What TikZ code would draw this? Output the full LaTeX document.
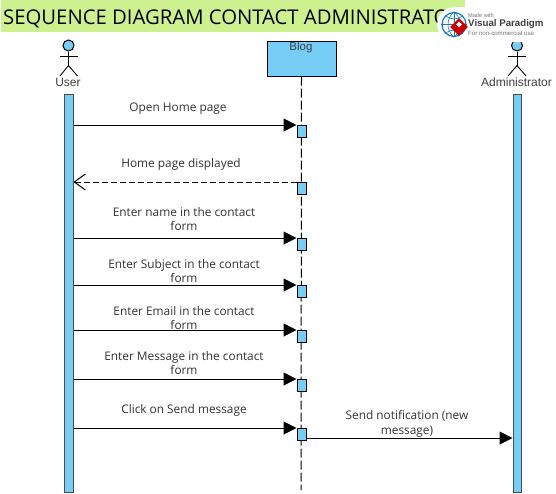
\documentclass[tikz,border=0pt]{standalone}
\usepackage{fontspec}
\setmainfont{Open Sans}
\newfontfamily\arialf{Liberation Sans}
\usetikzlibrary{arrows.meta,calc,shapes.geometric}
\definecolor{barblue}{HTML}{76CEF6}
\definecolor{titlegreen}{HTML}{CDF18F}
\definecolor{labelgray}{HTML}{333333}
\tikzset{
  x=1pt,y=-1pt,
  actbar/.style={draw=black,line width=1pt,fill=barblue,inner sep=0pt,minimum width=9pt,minimum height=12pt,anchor=north west},
  longbar/.style={draw=black!70,line width=1pt,fill=barblue,inner sep=0pt,minimum width=8.5pt,minimum height=398pt,anchor=north west},
  msg/.style={draw=black,line width=1pt,-{Triangle[length=13pt,width=13pt]}},
  ret/.style={draw=black,line width=1pt,dashed,dash pattern=on 6pt off 3pt,-{Straight Barb[length=11pt,width=16pt,line width=1pt]}},
  msglabel/.style={font=\fontsize{11.85}{14.5}\selectfont,text=labelgray,align=center,inner sep=0pt},
  actorlabel/.style={font=\arialf\fontsize{12}{14}\selectfont,text=black!75,inner sep=0pt},
  stick/.style={draw=black,line width=0.9pt},
  head/.style={circle,draw=black,line width=1pt,fill=barblue,minimum size=11pt,inner sep=0pt},
}
\begin{document}
\begin{tikzpicture}
\useasboundingbox (0,0) rectangle (556,493);
\fill[white] (0,0) rectangle (556,493);
% title
\node[fill=titlegreen,anchor=north west,minimum width=464pt,minimum height=32pt,inner sep=0pt] (titlebg) at (1,0) {};
\node[anchor=west,inner sep=0pt,font=\fontsize{20.3}{24}\selectfont,text=black] (title) at (3,18.5) {SEQUENCE DIAGRAM CONTACT ADMINISTRATOR};
% User actor
\node[head] (userhead) at (68.5,45.5) {};
\coordinate (userhip) at (68.5,65.5);
\coordinate (userla) at (59.5,56.5);
\coordinate (userra) at (77.5,56.5);
\coordinate (userll) at (60,76);
\coordinate (userrl) at (77.5,76);
\draw[stick] (userhead) -- (userhip);
\draw[stick] (userla) -- (userra);
\draw[stick] (userll) -- (userhip) -- (userrl);
\node[actorlabel] (userlabel) at (68,82.5) {User};
% Admin actor
\node[head] (adminhead) at (517,45.5) {};
\coordinate (adminhip) at (517,65.5);
\coordinate (adminla) at (508,56.5);
\coordinate (adminra) at (526,56.5);
\coordinate (adminll) at (508,76);
\coordinate (adminrl) at (526,76);
\draw[stick] (adminhead) -- (adminhip);
\draw[stick] (adminla) -- (adminra);
\draw[stick] (adminll) -- (adminhip) -- (adminrl);
\node[actorlabel] (adminlabel) at (516.5,82.5) {Administrator};
% Blog
\node[draw=black,line width=1pt,fill=barblue,minimum width=69pt,minimum height=35pt,inner sep=0pt,anchor=north west] (blog) at (266.5,40.5) {};
\node[anchor=north,inner sep=0pt,font=\arialf\fontsize{11.5}{14}\selectfont,text=black!75] (bloglabel) at (301,41.5) {Blog};
\coordinate (blogend) at (301,490);
\draw[line width=1pt,dash pattern=on 9pt off 3pt] (blog.south) -- (blogend);
% bars
\node[longbar] (userbar) at (64,94) {};
\node[longbar] (adminbar) at (512.5,94) {};
\node[actbar] (b1) at (296.5,125) {};
\node[actbar] (b2) at (296.5,182) {};
\node[actbar] (b3) at (296.5,238) {};
\node[actbar] (b4) at (296.5,285) {};
\node[actbar] (b5) at (296.5,330) {};
\node[actbar] (b6) at (296.5,379) {};
\node[actbar] (b7) at (296.5,428) {};
% messages
\draw[msg] (userbar.east |- b1.north west) -- (b1.north west);
\draw[ret] (b2.north west) -- (userbar.east |- b2.north west);
\draw[msg] (userbar.east |- b3.north west) -- (b3.north west);
\draw[msg] (userbar.east |- b4.north west) -- (b4.north west);
\draw[msg] (userbar.east |- b5.north west) -- (b5.north west);
\draw[msg] (userbar.east |- b6.north west) -- (b6.north west);
\draw[msg] (userbar.east |- b7.north west) -- (b7.north west);
\coordinate (n1) at (306,438);
\draw[msg] (n1) -- (adminbar.west |- n1);
% labels
\node[msglabel] (l1) at (178,108.5) {Open Home page};
\node[msglabel] (l2) at (181,164.5) {Home page displayed};
\node[msglabel] (l3) at (184,219) {Enter name in the contact\\form};
\node[msglabel] (l4) at (184,271) {Enter Subject in the contact\\form};
\node[msglabel] (l5) at (184,318) {Enter Email in the contact\\form};
\node[msglabel] (l6) at (184,363) {Enter Message in the contact\\form};
\node[msglabel] (l7) at (184,410.5) {Click on Send message};
\node[msglabel] (l8) at (407,424) {Send notification (new\\message)};
% watermark
\node[fill=white,rounded corners=17pt,minimum width=115pt,minimum height=35pt,inner sep=0pt,anchor=north west] (wm) at (437,7) {};
\node[circle,fill=white,draw=cyan!60!blue,line width=1.2pt,minimum size=24pt,inner sep=0pt] (globe) at (454,24.5) {};
\draw[cyan!60!blue,line width=0.6pt] (globe.west) -- (globe.east);
\draw[cyan!60!blue,line width=0.6pt] (globe.north) -- (globe.south);
\draw[cyan!60!blue,line width=0.6pt] (globe.north) .. controls (446,18) and (446,31) .. (globe.south);
\draw[cyan!60!blue,line width=0.6pt] (globe.north) .. controls (462,18) and (462,31) .. (globe.south);
\draw[cyan!60!blue,line width=0.6pt] (globe.north west) .. controls (450,20) and (458,20) .. (globe.north east);
\draw[cyan!60!blue,line width=0.6pt] (globe.south west) .. controls (450,29) and (458,29) .. (globe.south east);
\node[diamond,aspect=1,fill=red!80!black,minimum size=18pt,inner sep=0pt] (logo) at (459,27) {};
\node[diamond,aspect=1,fill=white,minimum size=6pt,inner sep=0pt] (logoin) at (459,24.5) {};
\node[anchor=west,inner sep=0pt,font=\arialf\fontsize{5.6}{6}\selectfont,text=black!55] (wm1) at (468,15.5) {Made with};
\node[anchor=west,inner sep=0pt,font=\arialf\bfseries\fontsize{9.7}{10}\selectfont,text=black!75] (wm2) at (468,24.5) {Visual Paradigm};
\node[anchor=west,inner sep=0pt,font=\arialf\fontsize{6.1}{6}\selectfont,text=black!55] (wm3) at (468,33) {For non-commercial use};
\end{tikzpicture}
\end{document}
